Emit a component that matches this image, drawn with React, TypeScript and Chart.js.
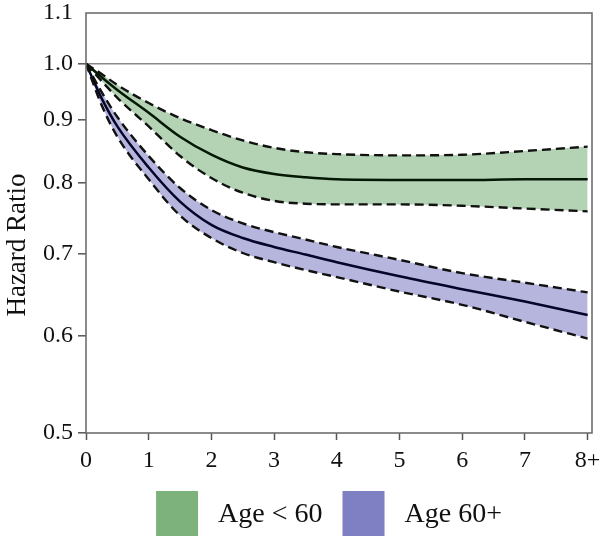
import React, { useEffect, useRef } from "react";
import { Chart, registerables } from "chart.js";

Chart.register(...registerables);

const xs = [0, 0.25, 0.5, 1, 1.5, 2, 2.5, 3, 3.5, 4, 5, 6, 7, 8];
const greenMid = [1.0, 0.975, 0.952, 0.912, 0.872, 0.843, 0.823, 0.813, 0.808, 0.805, 0.804, 0.804, 0.805, 0.805];
const greenHi = [1.0, 0.981, 0.961, 0.929, 0.903, 0.883, 0.866, 0.854, 0.847, 0.844, 0.842, 0.843, 0.849, 0.856];
const greenLo = [1.0, 0.968, 0.938, 0.889, 0.841, 0.807, 0.785, 0.773, 0.769, 0.768, 0.768, 0.766, 0.762, 0.758];
const purpleMid = [1.0, 0.937, 0.889, 0.823, 0.772, 0.739, 0.721, 0.709, 0.699, 0.689, 0.671, 0.655, 0.64, 0.624];
const purpleHi = [1.0, 0.948, 0.905, 0.841, 0.792, 0.76, 0.741, 0.729, 0.719, 0.709, 0.692, 0.675, 0.663, 0.651];
const purpleLo = [1.0, 0.925, 0.872, 0.805, 0.752, 0.721, 0.701, 0.689, 0.679, 0.67, 0.652, 0.636, 0.616, 0.597];

const xTicks = [0, 1, 2, 3, 4, 5, 6, 7, 8];
const xTickLabels = ["0", "1", "2", "3", "4", "5", "6", "7", "8+"];
const yTicks = [0.5, 0.6, 0.7, 0.8, 0.9, 1.0, 1.1];
const yTickLabels = ["0.5", "0.6", "0.7", "0.8", "0.9", "1.0", "1.1"];
const yTitle = "Hazard Ratio";
const seriesNames = ["Age < 60", "Age 60+"];
const seriesColors = ["#7db27d", "#7f7fc4"];
const bandColors = ["rgba(125,178,125,0.58)", "rgba(127,127,196,0.58)"];
const midColors = ["#041804", "#05052a"];

const SERIF = '"Liberation Serif", "Times New Roman", serif';

const pts = (vals: number[]) => xs.map((x, i) => ({ x, y: vals[i] }));

const framePlugin = {
  id: "frame",
  afterDatasetsDraw(chart: any) {
    const { ctx, chartArea: a } = chart;
    ctx.save();
    ctx.strokeStyle = "#6e6e6e";
    ctx.lineWidth = 1.6;
    ctx.strokeRect(a.left, a.top, a.right - a.left, a.bottom - a.top);
    ctx.restore();
  },
};

const titlePlugin = {
  id: "yTitle",
  afterDraw(chart: any) {
    const { ctx, chartArea: a } = chart;
    ctx.save();
    ctx.font = `27px ${SERIF}`;
    ctx.fillStyle = "#111";
    ctx.textAlign = "center";
    ctx.textBaseline = "middle";
    ctx.translate(18, a.bottom - 188);
    ctx.rotate(-Math.PI / 2);
    ctx.fillText(yTitle, 0, 0);
    ctx.restore();
  },
};

const legendPlugin = {
  id: "customLegend",
  afterDraw(chart: any) {
    const { ctx, chartArea: a } = chart;
    ctx.save();
    ctx.font = `28px ${SERIF}`;
    const boxW = 42, boxH = 45, gap = 20, itemGap = 20;
    const widths = seriesNames.map((n) => ctx.measureText(n).width);
    const total = widths.reduce((s, w) => s + boxW + gap + w, 0) + itemGap * (seriesNames.length - 1);
    let x = (a.left + a.right) / 2 - 10 - total / 2;
    const top = a.bottom + 58;
    ctx.textBaseline = "middle";
    ctx.textAlign = "left";
    seriesNames.forEach((n, i) => {
      ctx.fillStyle = seriesColors[i];
      ctx.fillRect(x, top, boxW, boxH);
      ctx.fillStyle = "#111";
      ctx.fillText(n, x + boxW + gap, top + boxH / 2 + 1);
      x += boxW + gap + widths[i] + itemGap;
    });
    ctx.restore();
  },
};

export default function App() {
  const ref = useRef<HTMLCanvasElement>(null);
  useEffect(() => {
    if (!ref.current) return;
    const dashed = (vals: number[], fill: any, bg: string) => ({
      data: pts(vals),
      borderColor: "#111",
      borderWidth: 2.4,
      borderDash: [9, 5],
      pointRadius: 0,
      cubicInterpolationMode: "monotone" as const,
      fill,
      backgroundColor: bg,
    });
    const solid = (vals: number[], color: string) => ({
      data: pts(vals),
      borderColor: color,
      borderWidth: 2.5,
      pointRadius: 0,
      cubicInterpolationMode: "monotone" as const,
      fill: false,
    });
    const chart = new Chart(ref.current, {
      type: "line",
      data: {
        datasets: [
          { label: seriesNames[0] + " lower", ...dashed(greenLo, false, "transparent") },
          { label: seriesNames[0] + " upper", ...dashed(greenHi, "-1", bandColors[0]) },
          { label: seriesNames[0], ...solid(greenMid, midColors[0]) },
          { label: seriesNames[1] + " lower", ...dashed(purpleLo, false, "transparent") },
          { label: seriesNames[1] + " upper", ...dashed(purpleHi, "-1", bandColors[1]) },
          { label: seriesNames[1], ...solid(purpleMid, midColors[1]) },
        ] as any,
      },
      options: {
        animation: false,
        responsive: false,
        devicePixelRatio: 1,
        layout: { padding: { top: 13, right: 8, bottom: 0, left: 0 } },
        plugins: {
          legend: { display: false },
          tooltip: { enabled: false },
          filler: { drawTime: "beforeDatasetsDraw" },
        } as any,
        scales: {
          x: {
            type: "linear",
            min: 0,
            max: 8.07,
            afterBuildTicks: (s: any) => {
              s.ticks = xTicks.map((v) => ({ value: v }));
            },
            afterFit: (s: any) => {
              s.height = 104;
              s.paddingLeft = 0;
              s.paddingRight = 0;
            },
            ticks: {
              callback: (_v: any, i: number) => xTickLabels[i],
              font: { family: SERIF, size: 24 },
              color: "#111",
              padding: 6,
              maxRotation: 0,
            },
            grid: {
              drawOnChartArea: false,
              tickLength: 7,
              tickColor: "#555",
              tickWidth: 1.5,
            },
            border: { display: false },
          },
          y: {
            type: "logarithmic",
            min: 0.5,
            max: 1.1,
            afterBuildTicks: (s: any) => {
              s.ticks = yTicks.map((v) => ({ value: v }));
            },
            afterFit: (s: any) => {
              s.width = 86;
              s.paddingTop = 0;
              s.paddingBottom = 0;
            },
            ticks: {
              callback: (_v: any, i: number) => yTickLabels[i],
              font: { family: SERIF, size: 24 },
              color: "#111",
              padding: 5,
            },
            grid: {
              color: (c: any) => (c.tick && c.tick.value === 1 ? "#8a8a8a" : "rgba(0,0,0,0)"),
              lineWidth: 1.6,
              tickLength: 8,
              tickColor: (c: any) => (c.tick && c.tick.value === 1.1 ? "rgba(0,0,0,0)" : "#555"),
              tickWidth: 1.5,
            },
            border: { display: false },
          },
        },
      },
      plugins: [framePlugin, titlePlugin, legendPlugin],
    });
    return () => chart.destroy();
  }, []);
  return (
    <div style={{ position: "fixed", left: 0, top: 0, width: 600, height: 537, background: "#fff" }}>
      <canvas ref={ref} width={600} height={537} style={{ display: "block" }} />
    </div>
  );
}
